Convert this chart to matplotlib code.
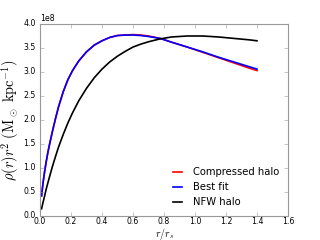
import numpy as np
import matplotlib
matplotlib.use("Agg")
import matplotlib.pyplot as plt

plt.style.use("classic")
plt.rcParams["mathtext.fontset"] = "cm"

# r / r_s sample points
r = [0.01, 0.02, 0.03, 0.04, 0.05, 0.06, 0.08, 0.10, 0.12, 0.15, 0.18,
     0.21, 0.25, 0.30, 0.35, 0.40, 0.45, 0.50, 0.55, 0.60, 0.65, 0.70,
     0.775, 0.85, 0.95, 1.05, 1.15, 1.25, 1.35, 1.40]

# rho(r) r^2 in units of 1e8
compressed = [0.42, 0.70, 0.93, 1.13, 1.31, 1.47, 1.76, 2.03, 2.28, 2.59, 2.84,
              3.03, 3.23, 3.42, 3.56, 3.65, 3.72, 3.76, 3.77, 3.78, 3.77, 3.75,
              3.70, 3.62, 3.52, 3.41, 3.30, 3.19, 3.08, 3.03]
best_fit = [0.42, 0.70, 0.93, 1.13, 1.31, 1.47, 1.76, 2.03, 2.28, 2.59, 2.84,
            3.03, 3.23, 3.42, 3.56, 3.65, 3.72, 3.76, 3.77, 3.77, 3.76, 3.74,
            3.70, 3.62, 3.52, 3.42, 3.31, 3.21, 3.11, 3.06]
nfw = [0.15, 0.29, 0.42, 0.56, 0.68, 0.80, 1.03, 1.24, 1.44, 1.70, 1.94,
       2.15, 2.40, 2.66, 2.88, 3.06, 3.21, 3.33, 3.43, 3.52, 3.58, 3.63,
       3.69, 3.73, 3.75, 3.75, 3.73, 3.70, 3.67, 3.65]

scale = 1e8

fig = plt.figure(figsize=(4, 3), dpi=80)
ax = fig.add_subplot(111)

ax.plot(r, np.array(compressed) * scale, color="red", lw=1.5, label="Compressed halo")
ax.plot(r, np.array(best_fit) * scale, color="blue", lw=1.5, label="Best fit")
ax.plot(r, np.array(nfw) * scale, color="black", lw=1.5, label="NFW halo")

ax.set_xlim(0, 1.6)
ax.set_ylim(0, 4.0e8)
ax.set_xticks(np.arange(0, 1.61, 0.2))
ax.set_yticks(np.arange(0, 4.01e8, 0.5e8))

for s in ax.spines.values():
    s.set_color("#999999")
ax.tick_params(colors="#999999", labelcolor="black", labelsize=7, direction="in")
ax.tick_params(axis="x", pad=1)
ax.yaxis.get_offset_text().set_fontsize(7)

ax.set_xlabel(r"$r/r_s$", fontsize=9)
ax.xaxis.set_label_coords(0.5, -0.05)
ax.set_ylabel(r"$\rho(r)r^2\ (\mathrm{M_\odot\ kpc^{-1}})$", fontsize=13, labelpad=2)

ax.legend(loc="lower right", frameon=False, fontsize=9, handlelength=1.5)

fig.savefig("out.png", dpi=80)
